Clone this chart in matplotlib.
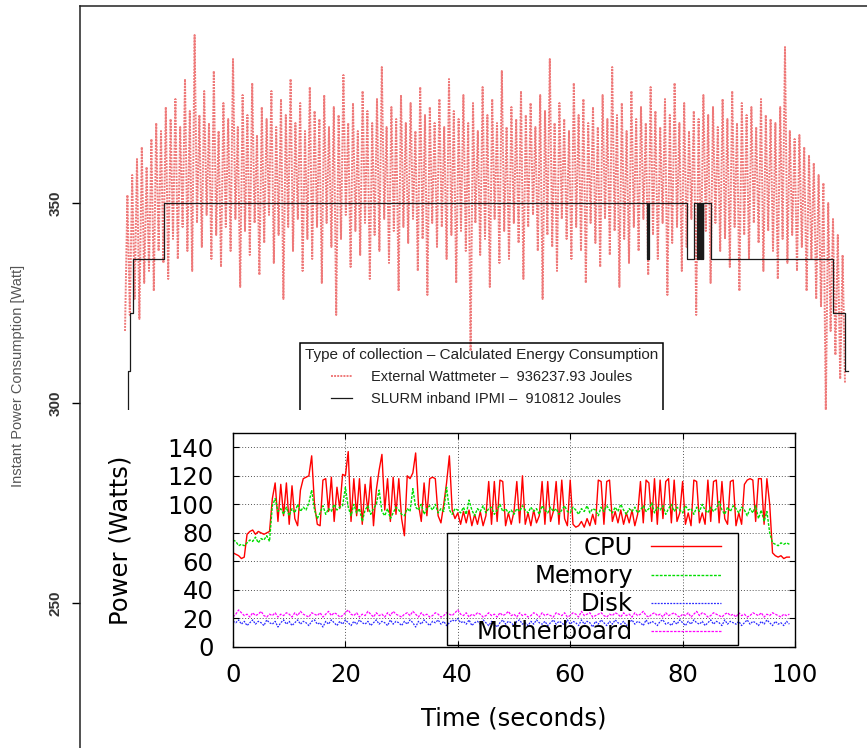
import numpy as np
import matplotlib.pyplot as plt
from matplotlib.patches import Rectangle

# ---- background run: external wattmeter vs SLURM IPMI (Watt) ----
wattmeter_start = 45
wattmeter_step = 2.4
wattmeter_watts = [
    318, 352, 322, 357, 326, 361, 321, 364, 330, 359,
    333, 366, 328, 370, 338, 368, 335, 374, 331, 371,
    341, 376, 336, 369, 344, 381, 338, 373, 333, 392,
    345, 372, 339, 378, 347, 370, 336, 383, 342, 368,
    334, 375, 344, 371, 338, 386, 346, 369, 329, 377,
    343, 372, 337, 380, 345, 367, 332, 374, 340, 371,
    347, 378, 335, 369, 342, 376, 326, 372, 344, 381,
    338, 370, 346, 375, 333, 368, 341, 379, 336, 373,
    344, 371, 330, 377, 345, 369, 339, 374, 322, 372,
    341, 382, 347, 370, 334, 375, 343, 368, 337, 378,
    345, 373, 331, 370, 342, 376, 338, 384, 346, 369,
    335, 374, 343, 371, 328, 377, 344, 370, 340, 375,
    346, 368, 333, 379, 341, 372, 327, 374, 345, 370,
    339, 376, 344, 369, 336, 381, 342, 373, 330, 371,
    343, 377, 338, 370, 313, 375, 345, 368, 337, 379,
    341, 372, 329, 376, 346, 370, 335, 383, 343, 369,
    336, 374, 345, 371, 340, 378, 331, 372, 344, 375,
    347, 369, 338, 377, 326, 373, 342, 386, 339, 370,
    333, 375, 346, 371, 341, 368, 336, 380, 344, 372,
    338, 376, 330, 370, 345, 374, 340, 369, 334, 377,
    346, 371, 337, 384, 343, 372, 329, 375, 341, 368,
    335, 378, 344, 371, 338, 374, 346, 370, 332, 379,
    342, 373, 336, 369, 345, 376, 327, 372, 340, 380,
    344, 370, 333, 375, 339, 368, 346, 373, 322, 371,
    337, 377, 343, 372, 330, 374, 345, 369, 338, 376,
    341, 371, 334, 378, 344, 370, 328, 375, 342, 372,
    336, 374, 345, 369, 340, 376, 333, 372, 343, 371,
    338, 370, 331, 374, 341, 389, 335, 368, 342, 366,
    333, 367, 339, 364, 328, 362, 336, 360, 326, 357,
    324, 355, 298, 350, 318, 346, 312, 342, 306, 337,
    305,
]

ipmi_times = [47, 48, 50, 53, 84, 567, 567.7, 568.3, 569, 607, 614,
              617, 617.7, 618.4, 619.1, 619.8, 620.5, 621.2, 621.9, 622.6, 623.3,
              631, 753, 765, 768]
ipmi_watts = [290, 308, 322.5, 336, 350, 336, 350, 336, 350, 336, 350,
              336, 350, 336, 350, 336, 350, 336, 350, 336, 350,
              336, 322.5, 308, 308]

energy_labels = ["External Wattmeter \u2013  936237.93 Joules",
                 "SLURM inband IPMI \u2013  910812 Joules"]

# ---- inset: per component power (Watts), one sample every 0.5 s ----
sample_dt = 0.5
cpu_watts = [
    66, 65, 64, 62, 63, 79, 81, 82, 79, 81, 80, 79, 80, 81, 104, 115, 88, 114, 92, 115,
    86, 113, 90, 85, 110, 118, 119, 120, 134, 100, 86, 85, 117, 118, 95, 119, 88, 112, 97, 121,
    120, 137, 88, 118, 92, 118, 86, 114, 95, 119, 85, 110, 124, 135, 96, 118, 88, 119, 93, 118,
    90, 78, 120, 118, 122, 136, 100, 88, 115, 92, 118, 119, 118, 92, 87, 100, 115, 134, 96, 90,
    94, 86, 95, 87, 96, 85, 93, 86, 95, 85, 92, 116, 86, 116, 88, 117, 116, 85, 94, 86,
    95, 116, 87, 120, 86, 94, 85, 96, 87, 92, 116, 86, 116, 88, 95, 116, 86, 117, 90, 85,
    117, 86, 84, 85, 88, 84, 90, 85, 93, 86, 117, 116, 86, 116, 117, 88, 95, 87, 96, 86,
    94, 87, 96, 85, 93, 116, 87, 117, 115, 88, 118, 86, 117, 90, 116, 118, 87, 117, 88, 94,
    116, 86, 94, 85, 117, 116, 87, 94, 86, 117, 88, 116, 117, 87, 116, 90, 86, 116, 117, 85,
    94, 86, 114, 117, 118, 117, 88, 118, 118, 86, 118, 100, 66, 64, 63, 64, 62, 63, 63,
]
memory_watts = [
    75, 74, 71, 72, 71, 73, 75, 74, 77, 73, 76, 75, 78, 74, 99, 104, 95, 97, 93, 98,
    92, 97, 94, 100, 95, 98, 96, 101, 110, 96, 90, 94, 99, 93, 97, 95, 100, 96, 98, 99,
    112, 98, 92, 100, 94, 97, 88, 96, 99, 93, 97, 100, 110, 95, 92, 97, 90, 94, 98, 96,
    93, 92, 97, 95, 111, 98, 96, 100, 93, 97, 99, 96, 100, 94, 97, 95, 112, 96, 93, 97,
    96, 94, 98, 93, 103, 96, 92, 97, 95, 99, 94, 97, 98, 93, 96, 100, 95, 97, 94, 96,
    93, 97, 95, 99, 96, 94, 98, 95, 97, 93, 99, 96, 94, 98, 95, 97, 93, 96, 99, 95,
    94, 98, 96, 93, 97, 95, 99, 94, 97, 96, 92, 98, 95, 99, 96, 94, 98, 95, 100, 96,
    93, 97, 95, 98, 94, 96, 99, 95, 97, 101, 94, 98, 96, 99, 93, 97, 100, 95, 98, 96,
    94, 99, 96, 97, 93, 98, 95, 100, 96, 94, 98, 95, 97, 102, 96, 93, 98, 95, 99, 97,
    94, 98, 96, 92, 97, 94, 99, 90, 96, 88, 95, 80, 73, 72, 71, 73, 72, 73, 72,
]
disk_watts = [
    18, 17, 19, 16, 18, 15, 17, 19, 16, 18, 17, 15, 19, 17, 16, 18, 14, 17, 19, 16,
    18, 15, 17, 19, 16, 18, 17, 15, 18, 19, 16, 17, 14, 18, 16, 19, 17, 15, 18, 16,
    19, 17, 15, 18, 16, 19, 17, 16, 18, 15, 17, 19, 16, 18, 17, 15, 19, 16, 18, 17,
    15, 18, 16, 19, 17, 14, 18, 16, 19, 17, 15, 18, 17, 19, 16, 18, 15, 17, 19, 18,
    20, 17, 18, 16, 19, 15, 17, 18, 16, 19, 17, 15, 18, 16, 14, 17, 19, 16, 18, 17,
    15, 18, 19, 16, 17, 15, 18, 16, 19, 17, 16, 18, 15, 17, 19, 16, 18, 17, 15, 19,
    16, 18, 17, 15, 19, 16, 18, 17, 14, 18, 16, 19, 17, 15, 18, 16, 19, 17, 16, 18,
    15, 17, 19, 16, 18, 17, 15, 19, 16, 18, 17, 15, 18, 19, 16, 17, 15, 18, 16, 19,
    17, 15, 18, 16, 19, 17, 16, 18, 15, 17, 19, 16, 18, 17, 15, 19, 16, 18, 17, 16,
    18, 15, 17, 19, 16, 18, 17, 15, 18, 16, 19, 17, 15, 18, 16, 17, 15, 18, 16,
]
motherboard_watts = [
    21, 23, 26, 24, 22, 23, 21, 24, 22, 23, 25, 22, 21, 23, 22, 24, 21, 23, 22, 24,
    23, 21, 24, 22, 25, 23, 22, 21, 24, 23, 22, 24, 21, 23, 25, 22, 24, 23, 21, 22,
    24, 26, 23, 22, 24, 21, 23, 22, 25, 23, 21, 24, 22, 23, 21, 24, 22, 25, 23, 22,
    21, 23, 24, 22, 25, 23, 21, 24, 22, 23, 21, 22, 24, 23, 21, 22, 24, 23, 22, 24,
    26, 23, 22, 24, 21, 23, 22, 24, 23, 21, 22, 24, 22, 23, 21, 24, 22, 23, 25, 22,
    23, 21, 24, 22, 23, 21, 22, 24, 23, 21, 24, 22, 23, 22, 21, 24, 23, 22, 24, 21,
    22, 24, 23, 21, 25, 22, 23, 24, 21, 22, 23, 24, 22, 21, 23, 22, 24, 23, 21, 24,
    22, 23, 21, 24, 22, 23, 25, 22, 21, 23, 24, 22, 23, 21, 24, 22, 23, 24, 22, 21,
    23, 22, 24, 21, 23, 25, 22, 24, 23, 21, 22, 24, 23, 22, 21, 23, 24, 22, 23, 21,
    24, 22, 23, 21, 22, 24, 23, 22, 24, 21, 23, 22, 24, 23, 22, 21, 23, 22, 23,
]
component_names = ["CPU", "Memory", "Disk", "Motherboard"]

W, H = 867, 748
fig = plt.figure(figsize=(W / 100, H / 100), dpi=100)

# background chart (partly covered by the inset)
bg = fig.add_axes([80 / W, 1 - 763 / H, 800 / W, 757 / H])
t_wm = wattmeter_start + wattmeter_step * np.arange(len(wattmeter_watts))
bg.plot(t_wm, wattmeter_watts, color="#e84040", lw=1.4, ls=(0, (1, 0.6)),
        alpha=0.7, label=energy_labels[0])
bg.step(ipmi_times, ipmi_watts, where="post", color="#1a1a1a", lw=0.9,
        label=energy_labels[1])
bg.set_xlim(0, 800)
bg.set_ylim(210, 399.25)
bg.set_xticks([])
bg.set_yticks([250, 300, 350])
bg.set_yticklabels(["250", "300", "350"], rotation=90, va="center",
                   fontweight="bold", color="#333333", family="Liberation Sans",
                   fontsize=11)
bg.tick_params(axis="y", direction="out", length=6, width=1, pad=6.5)
for s in bg.spines.values():
    s.set_linewidth(1.1)
    s.set_color("#222222")

fig.text(18 / W, 1 - 376 / H, "Instant Power Consumption [Watt]", rotation=90,
         va="center", ha="center", fontsize=10.5, color="#555555",
         family="Liberation Sans")

leg = bg.legend(loc="upper left", bbox_to_anchor=(300 / W, 1 - 343 / H),
                bbox_transform=fig.transFigure,
                title="Type of collection \u2013 Calculated Energy Consumption",
                prop={"family": "Liberation Sans", "size": 10.5},
                title_fontproperties={"family": "Liberation Sans", "size": 11},
                fancybox=False, edgecolor="black", facecolor="none",
                framealpha=1, borderpad=0.35, borderaxespad=0,
                handlelength=1.45, handletextpad=1.3, labelspacing=0.55,
                labelcolor="#222222")
leg.get_frame().set_linewidth(1.1)
leg.get_title().set_color("#222222")

# white area behind the inset
fig.add_artist(Rectangle((82 / W, 0), 1, 1 - 410 / H, transform=fig.transFigure,
                         facecolor="white", edgecolor="none", zorder=1))

# inset chart
ax = fig.add_axes([233 / W, 1 - 647 / H, 562 / W, 214 / H], zorder=2)
t = sample_dt * np.arange(len(cpu_watts))
ax.plot(t, cpu_watts, color="#ff0000", lw=1.0, label=component_names[0])
ax.plot(t, memory_watts, color="#00dd00", lw=1.0, ls=(0, (2, 1)),
        label=component_names[1])
ax.plot(t, disk_watts, color="#2a2aff", lw=0.9, ls=(0, (1.5, 1)),
        label=component_names[2])
ax.plot(t, motherboard_watts, color="#ff00ff", lw=0.9, ls=(0, (2, 1)),
        label=component_names[3])

ax.set_xlim(0, 100)
ax.set_ylim(0, 150)
ax.set_xticks(range(0, 101, 20))
ax.set_yticks(range(0, 141, 20))
ax.grid(True, color="#555555", ls=(0, (1, 2)), lw=0.7)
ax.tick_params(direction="in", length=4, width=0.8, top=True, right=True,
               labelsize=17.5)
ax.tick_params(axis="x", pad=11.5)
ax.tick_params(axis="y", pad=14)
for s in ax.spines.values():
    s.set_linewidth(1.0)
    s.set_color("black")
ax.set_xlabel("Time (seconds)", fontsize=17.5, labelpad=14)
ax.set_ylabel("Power (Watts)", fontsize=17.5, labelpad=25)

ax.legend(loc="upper right", bbox_to_anchor=(721 / W, 1 - 536 / H),
          bbox_transform=fig.transFigure, markerfirst=False, frameon=False,
          fontsize=17.5, borderpad=0, borderaxespad=0, handlelength=2.88,
          handletextpad=0.74, labelspacing=0.17)
fig.add_artist(Rectangle((447 / W, 1 - 645 / H), (738 - 447) / W, (645 - 533) / H,
                         fill=False, edgecolor="black", lw=1.0,
                         transform=fig.transFigure, zorder=3))

fig.savefig("out.png", dpi=100)
